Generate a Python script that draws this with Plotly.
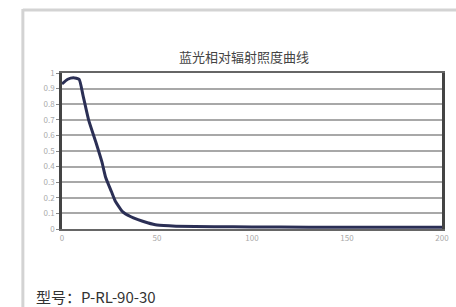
import plotly.graph_objects as go

# Data
wavelength_offset = [0, 3, 6, 9, 11, 14, 18, 21, 23, 26, 28, 32, 36, 40, 45, 50, 60, 80, 100, 130, 160, 200]
relative_irradiance = [0.93, 0.96, 0.97, 0.96, 0.86, 0.70, 0.55, 0.43, 0.33, 0.24, 0.18, 0.11, 0.08, 0.06, 0.04, 0.025, 0.018, 0.015, 0.013, 0.012, 0.012, 0.012]

x_ticks = [0, 50, 100, 150, 200]
x_tick_labels = ["0", "50", "100", "150", "200"]
y_ticks = [0, 0.1, 0.2, 0.3, 0.4, 0.5, 0.6, 0.7, 0.8, 0.9, 1.0]
y_tick_labels = ["0", "0.1", "0.2", "0.3", "0.4", "0.5", "0.6", "0.7", "0.8", "0.9", "1"]

title_text = "蓝光相对辐射照度曲线"
footer_text = "型号：P-RL-90-30"

fig = go.Figure()
fig.add_trace(go.Scatter(
    x=wavelength_offset, y=relative_irradiance, mode="lines",
    line=dict(color="#2b2f55", width=3, shape="spline", smoothing=0.5),
    showlegend=False, hoverinfo="skip"))

fig.update_layout(
    width=456, height=307,
    margin=dict(l=62, r=7, t=73, b=78),
    paper_bgcolor="white", plot_bgcolor="white",
    font=dict(family="Noto Sans CJK SC, Noto Sans, sans-serif"),
    xaxis=dict(range=[0, 200], tickvals=x_ticks, ticktext=x_tick_labels,
               showgrid=False, zeroline=False, showline=True, linecolor="#666",
               linewidth=2, mirror=True, ticks="", tickfont=dict(size=8, color="#aaa")),
    yaxis=dict(range=[0, 1], tickvals=y_ticks, ticktext=y_tick_labels,
               showgrid=True, gridcolor="#a8a8a8", gridwidth=1.5, zeroline=False,
               showline=True, linecolor="#444", linewidth=2.5, mirror=True,
               ticks="outside", ticklen=3, tickcolor="#888",
               tickfont=dict(size=8, color="#aaa")),
    shapes=[
        dict(type="line", xref="paper", yref="paper", x0=-0.103, x1=1.05, y0=1.404, y1=1.404,
             line=dict(color="#d3d3d3", width=3)),
        dict(type="line", xref="paper", yref="paper", x0=-0.103, x1=-0.103, y0=1.41, y1=-0.55,
             line=dict(color="#d3d3d3", width=3)),
    ],
    annotations=[
        dict(text=title_text, xref="paper", yref="paper", x=0.48, y=1.1026,
             showarrow=False, xanchor="center", yanchor="middle",
             font=dict(size=13, color="#444")),
        dict(text=footer_text, xref="paper", yref="paper", x=-0.075, y=-0.43,
             showarrow=False, xanchor="left", yanchor="middle",
             font=dict(size=15, color="#333")),
    ],
)

fig.write_html("out.html", config={"displayModeBar": False},
               post_script="document.body.style.margin='0';document.body.style.overflow='hidden';")
